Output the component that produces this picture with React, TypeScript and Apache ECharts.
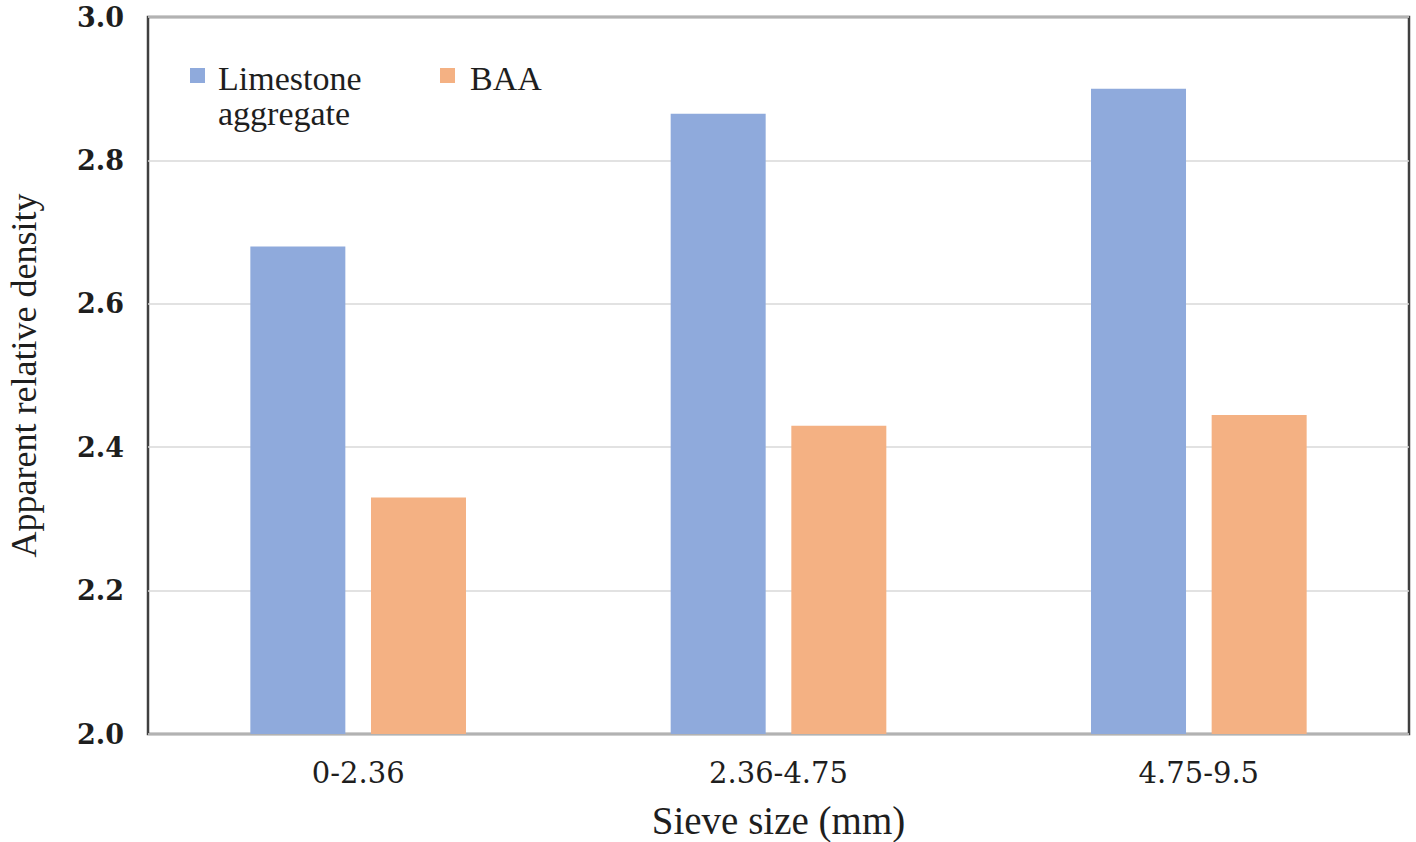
import React, { useEffect, useRef } from "react";
import * as echarts from "echarts";

const categories = ["0-2.36", "2.36-4.75", "4.75-9.5"];
const limestone = [2.68, 2.865, 2.9];
const baa = [2.33, 2.43, 2.445];
const seriesNames = ["Limestone aggregate", "BAA"];
const colors = ["#8FAADC", "#F4B183"];

export default function App() {
  const ref = useRef<HTMLDivElement>(null);
  useEffect(() => {
    if (!ref.current) return;
    const chart = echarts.init(ref.current, null, { renderer: "svg" });
    chart.setOption({
      animation: false,
      backgroundColor: "#ffffff",
      grid: {
        left: 148,
        top: 17,
        right: 7,
        bottom: 108,
        show: true,
        borderColor: "#404040",
        borderWidth: 2.5,
        backgroundColor: "transparent",
        outerBoundsMode: "none",
        containLabel: false,
      },
      xAxis: {
        type: "category",
        data: categories,
        axisLine: { show: false },
        axisTick: { show: false },
        axisLabel: {
          margin: 24,
          fontFamily: "DejaVu Serif",
          fontSize: 29,
          color: "#1e1e1e",
        },
        name: "Sieve size (mm)",
        nameLocation: "middle",
        nameGap: 66,
        nameTextStyle: {
          fontFamily: "Liberation Serif",
          fontSize: 39,
          lineHeight: 40,
          color: "#1e1e1e",
        },
      },
      yAxis: {
        type: "value",
        min: 2,
        max: 3,
        interval: 0.2,
        axisLine: { show: false },
        axisTick: { show: false },
        splitLine: { lineStyle: { color: "#D9D9D9", width: 1.5 } },
        axisLabel: {
          margin: 24,
          fontFamily: "DejaVu Serif",
          fontWeight: "bold",
          fontSize: 27,
          color: "#1e1e1e",
          formatter: (v: number) => v.toFixed(1),
        },
        name: "Apparent relative density",
        nameLocation: "middle",
        nameGap: 106,
        nameTextStyle: {
          fontFamily: "Liberation Serif",
          fontSize: 36,
          color: "#1e1e1e",
        },
      },
      graphic: [
        { type: "rect", left: 190, top: 68, shape: { width: 15, height: 15 }, style: { fill: colors[0] } },
        {
          type: "text",
          left: 218,
          top: 61,
          style: {
            text: "Limestone\naggregate",
            fontFamily: "Liberation Serif",
            fontSize: 34,
            lineHeight: 35,
            fill: "#1e1e1e",
          },
        },
        { type: "rect", left: 440, top: 68, shape: { width: 15, height: 15 }, style: { fill: colors[1] } },
        {
          type: "text",
          left: 470,
          top: 61,
          style: { text: seriesNames[1], fontFamily: "Liberation Serif", fontSize: 34, lineHeight: 35, fill: "#1e1e1e" },
        },
      ],
      series: [
        {
          name: seriesNames[0],
          type: "bar",
          data: limestone,
          barWidth: 95,
          barGap: "27%",
          itemStyle: { color: colors[0] },
        },
        {
          name: seriesNames[1],
          type: "bar",
          data: baa,
          barWidth: 95,
          barGap: "27%",
          itemStyle: { color: colors[1] },
        },
      ],
    });
    return () => chart.dispose();
  }, []);
  return (
    <div
      ref={ref}
      style={{ position: "fixed", left: 0, top: 0, width: 1416, height: 842 }}
    />
  );
}
